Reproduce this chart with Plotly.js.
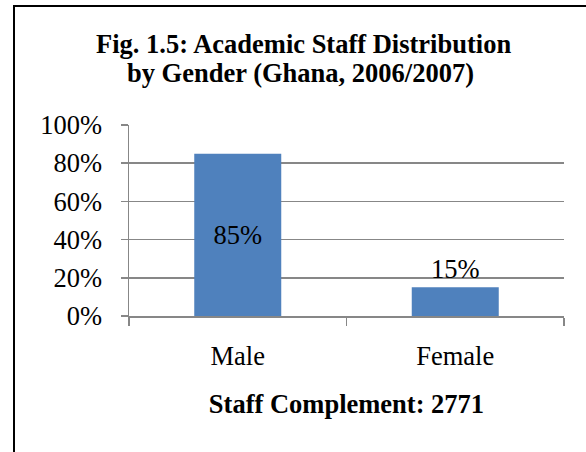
<!DOCTYPE html>
<html>
<head>
<meta charset="utf-8">
<script src="https://cdn.plot.ly/plotly-3.0.1.min.js"></script>
<style>
html,body{margin:0;padding:0;background:#fff;}
#chart{width:586px;height:452px;}
</style>
</head>
<body>
<div id="chart"></div>
<script>
var categories = ["Male", "Female"];
var shares = [0.85, 0.15];
var shareLabels = ["85%", "15%"];
var yTickVals = [0, 0.2, 0.4, 0.6, 0.8, 1.0];
var yTickText = ["0%", "20%", "40%", "60%", "80%", "100%"];
var titleLines = ["<b>Fig. 1.5: Academic Staff Distribution</b>", "<b>by Gender (Ghana, 2006/2007)</b>"];
var axisTitle = "<b>Staff Complement: 2771</b>";

var font = "Liberation Serif";
var fs = 26.5;
var grid = "#878787";

var trace = {
  type: "bar",
  x: categories,
  y: shares,
  text: shareLabels,
  textposition: ["inside", "outside"],
  insidetextanchor: "middle",
  textfont: {family: font, size: fs, color: "#000"},
  outsidetextfont: {family: font, size: fs, color: "#000"},
  insidetextfont: {family: font, size: fs, color: "#000"},
  constraintext: "none",
  cliponaxis: false,
  marker: {color: "#4F81BD", line: {width: 0}},
  hoverinfo: "skip"
};

var L = 129, R = 564, T = 125, B = 316;
var W = R - L, H = B - T;
function px(x){ return (x - L) / W; }
function py(y){ return (B - y) / H; }

var layout = {
  width: 586, height: 452,
  margin: {l: L, r: 586 - R, t: T, b: 452 - B},
  paper_bgcolor: "#fff",
  plot_bgcolor: "#fff",
  showlegend: false,
  bargap: 0.6,
  font: {family: font, color: "#000", size: fs},
  annotations: [
    {text: titleLines[0], xref: "paper", yref: "paper", x: px(303), y: py(44),
     xanchor: "center", yanchor: "middle", showarrow: false,
     font: {family: font, size: fs, color: "#000"}},
    {text: titleLines[1], xref: "paper", yref: "paper", x: px(300), y: py(73),
     xanchor: "center", yanchor: "middle", showarrow: false,
     font: {family: font, size: fs, color: "#000"}}
  ],
  xaxis: {
    type: "category",
    tickson: "boundaries",
    ticks: "outside", ticklen: 8, tickwidth: 1.5, tickcolor: grid,
    ticklabelstandoff: 16,
    showline: true, linecolor: grid, linewidth: 1.5,
    showgrid: false,
    tickfont: {family: font, size: fs, color: "#000"},
    title: {text: axisTitle, font: {family: font, size: fs, color: "#000"}, standoff: 24},
    fixedrange: true
  },
  yaxis: {
    range: [0, 1],
    tickvals: yTickVals, ticktext: yTickText,
    ticks: "outside", ticklen: 7, tickwidth: 1.5, tickcolor: grid,
    ticklabelstandoff: 13,
    showline: true, linecolor: grid, linewidth: 1.5,
    showgrid: true, gridcolor: grid, gridwidth: 1.5,
    zeroline: false,
    tickfont: {family: font, size: fs, color: "#000"},
    fixedrange: true
  },
  shapes: [{
    type: "rect", xref: "paper", yref: "paper",
    x0: px(14), x1: px(620), y0: py(6), y1: py(500),
    line: {color: "#000", width: 2}, fillcolor: "rgba(0,0,0,0)", layer: "below"
  }]
};

Plotly.newPlot("chart", [trace], layout, {displayModeBar: false, staticPlot: true});
</script>
</body>
</html>
